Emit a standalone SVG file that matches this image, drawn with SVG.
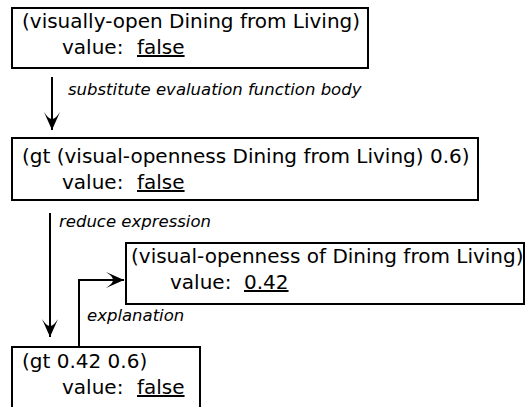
<svg xmlns="http://www.w3.org/2000/svg" width="525" height="407" viewBox="0 0 525 407">
  <style>
    .box { fill: #fff; stroke: #000; stroke-width: 2; }
    .expr { font-family: "DejaVu Sans", "Liberation Sans", sans-serif; font-size: 20px; fill: #000; }
    .val { text-decoration: underline; }
    .lbl { font-family: "DejaVu Sans", "Liberation Sans", sans-serif; font-size: 16.5px; font-style: italic; fill: #000; }
    .wire { fill: none; stroke: #000; stroke-width: 2; }
  </style>
  <defs>
    <!-- barbed arrowhead with a concave back -->
    <marker id="head" markerUnits="userSpaceOnUse" markerWidth="22" markerHeight="20" refX="18" refY="9" orient="auto" viewBox="0 0 22 20">
      <path d="M18,9 L0,1 Q9,7 6,9 Q9,11 0,17 Z" fill="#000"/>
    </marker>
  </defs>

  <g id="connectors">
    <path class="wire" d="M52,77 L52,130" marker-end="url(#head)"/>
    <path class="wire" d="M50,213 L50,337" marker-end="url(#head)"/>
    <path class="wire" d="M79,347 L79,280 L124,280" marker-end="url(#head)"/>
    <text class="lbl" x="68" y="95">substitute evaluation function body</text>
    <text class="lbl" x="59" y="227">reduce expression</text>
    <text class="lbl" x="87" y="321">explanation</text>
  </g>

  <g id="visually-open">
    <rect class="box" x="12" y="8" width="356" height="60"/>
    <text class="expr" x="22" y="28">(visually-open Dining from Living)</text>
    <text class="expr" x="62" y="54">value:</text>
    <text class="expr val" x="137" y="54">false</text>
  </g>

  <g id="gt-openness">
    <rect class="box" x="12" y="138" width="466" height="62"/>
    <text class="expr" x="22" y="163">(gt (visual-openness Dining from Living) 0.6)</text>
    <text class="expr" x="62" y="189">value:</text>
    <text class="expr val" x="137" y="189">false</text>
  </g>

  <g id="visual-openness">
    <rect class="box" x="126" y="243" width="398" height="61"/>
    <text class="expr" x="131" y="263">(visual-openness of Dining from Living)</text>
    <text class="expr" x="170" y="289">value:</text>
    <text class="expr val" x="244" y="289">0.42</text>
  </g>

  <g id="gt-values">
    <rect class="box" x="12" y="347" width="188" height="80"/>
    <text class="expr" x="22" y="368">(gt 0.42 0.6)</text>
    <text class="expr" x="62" y="394">value:</text>
    <text class="expr val" x="137" y="394">false</text>
  </g>
</svg>
